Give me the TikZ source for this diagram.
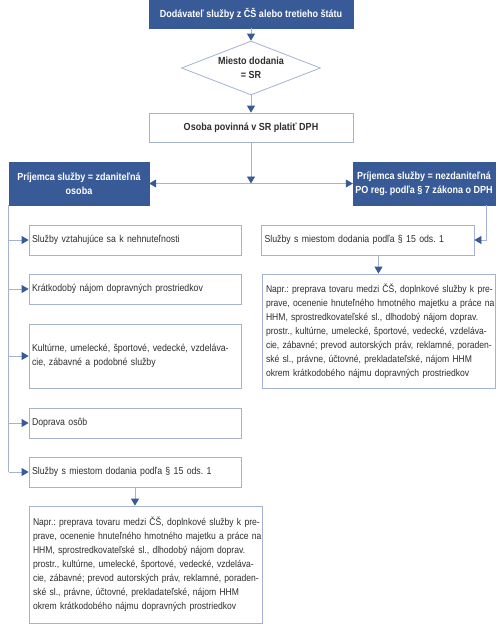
\documentclass[tikz,border=0pt]{standalone}
\usepackage{fontspec}
\setmainfont{Liberation Sans}[FakeStretch=0.875]
\usepackage{tikz}
\usetikzlibrary{arrows.meta,calc,positioning,shapes.geometric}
\definecolor{HeadBlue}{HTML}{385A97}
\definecolor{EdgeBlue}{HTML}{A3B3D1}
\definecolor{TextGray}{HTML}{2E2E2E}
\frenchspacing
\newcommand{\fullline}[1]{\makebox[\linewidth][s]{#1}\\}
\newcommand{\exampleservices}{\fullline{Napr.: preprava tovaru medzi ČŠ, doplnkové služby k pre-}
\fullline{prave, ocenenie hnuteľného hmotného majetku a práce na}
\fullline{HHM, sprostredkovateľské sl., dlhodobý nájom doprav.}
\fullline{prostr., kultúrne, umelecké, športové, vedecké, vzdeláva-}
\fullline{cie, zábavné; prevod autorských práv, reklamné, poraden-}
\fullline{ské sl., právne, účtovné, prekladateľské, nájom HHM}
okrem krátkodobého nájmu dopravných prostriedkov}

\begin{document}
\begin{tikzpicture}[x=1pt,y=-1pt,
    every node/.style={font=\fontsize{10}{14}\selectfont,text=TextGray,inner sep=0pt},
    headbox/.style={draw=HeadBlue,fill=HeadBlue,text=white,font=\fontsize{10.3}{14}\selectfont\bfseries,align=center},
    plainbox/.style={draw=EdgeBlue,fill=white,line width=0.8pt},
    boldbox/.style={plainbox,font=\fontsize{10.3}{14}\selectfont\bfseries,align=center},
    itembox/.style={plainbox,minimum width=212pt,text width=206pt,align=left,minimum height=30pt},
    notebox/.style={plainbox,minimum width=233pt,text width=225pt,align=left,font=\fontsize{9.8}{14}\selectfont},
    link/.style={draw=EdgeBlue,line width=0.8pt},
    tip/.style={link,-{Triangle[width=8pt,length=7pt,color=HeadBlue]}}]
    \useasboundingbox (0,0) rectangle (500,625);
    % top of the chart
    \node[headbox,minimum width=204pt,minimum height=28pt] (supplier) at (251,14) {Dodávateľ služby z ČŠ alebo tretieho štátu};
    \node[boldbox,diamond,aspect=2.57,minimum width=139pt,minimum height=54pt] (place) at (251,68) {Miesto dodania\\= SR};
    \node[boldbox,minimum width=204pt,minimum height=29pt] (liable) at (251,127.5) {Osoba povinná v SR platiť DPH};
    \node[headbox,minimum width=140pt,minimum height=43pt] (taxable) at (79,183.5) {Príjemca služby = zdaniteľná\\osoba};
    \node[headbox,minimum width=142pt,minimum height=43pt] (exempt) at (424,183.5) {Príjemca služby = nezdaniteľná\\PO reg. podľa § 7 zákona o DPH};
    % left branch
    \node[itembox] (realty) at (135,240) {Služby vztahujúce sa k nehnuteľnosti};
    \node[itembox] (rental) at (135,289) {Krátkodobý nájom dopravných prostriedkov};
    \node[itembox,minimum height=64pt] (culture) at (135,356) {\fullline{Kultúrne, umelecké, športové, vedecké, vzdeláva-}cie, zábavné a podobné služby};
    \node[itembox] (travel) at (135,423) {Doprava osôb};
    \node[itembox] (placeL) at (135,472) {Služby s miestom dodania podľa § 15 ods. 1};
    \node[notebox,minimum height=117pt] (noteL) at (145.5,564.5) {\exampleservices};
    % right branch
    \node[itembox,minimum width=213pt] (placeR) at (367.5,240) {Služby s miestom dodania podľa § 15 ods. 1};
    \node[notebox,minimum height=114pt] (noteR) at (378.5,331) {\exampleservices};
    % connectors
    \draw[tip] (supplier) -- (place);
    \draw[tip] (place) -- (liable);
    \coordinate (split) at (liable.south |- taxable.east);
    \draw[tip] (liable) -- (split);
    \draw[tip] (split) -- (taxable);
    \draw[tip] (split) -- (exempt);
    \draw[link] (taxable.south west) -- (taxable.south west |- placeL.west);
    \foreach \item in {realty,rental,culture,travel,placeL}
      \draw[tip] (taxable.south west |- \item.west) -- (\item.west);
    \draw[tip] (placeL.south) -- (placeL.south |- noteL.north);
    \coordinate (drop) at ($(exempt.south east)+(-9,0)$);
    \draw[tip] (drop) |- (placeR.east);
    \draw[tip] (noteR.north |- placeR.south) -- (noteR.north);
\end{tikzpicture}
\end{document}
